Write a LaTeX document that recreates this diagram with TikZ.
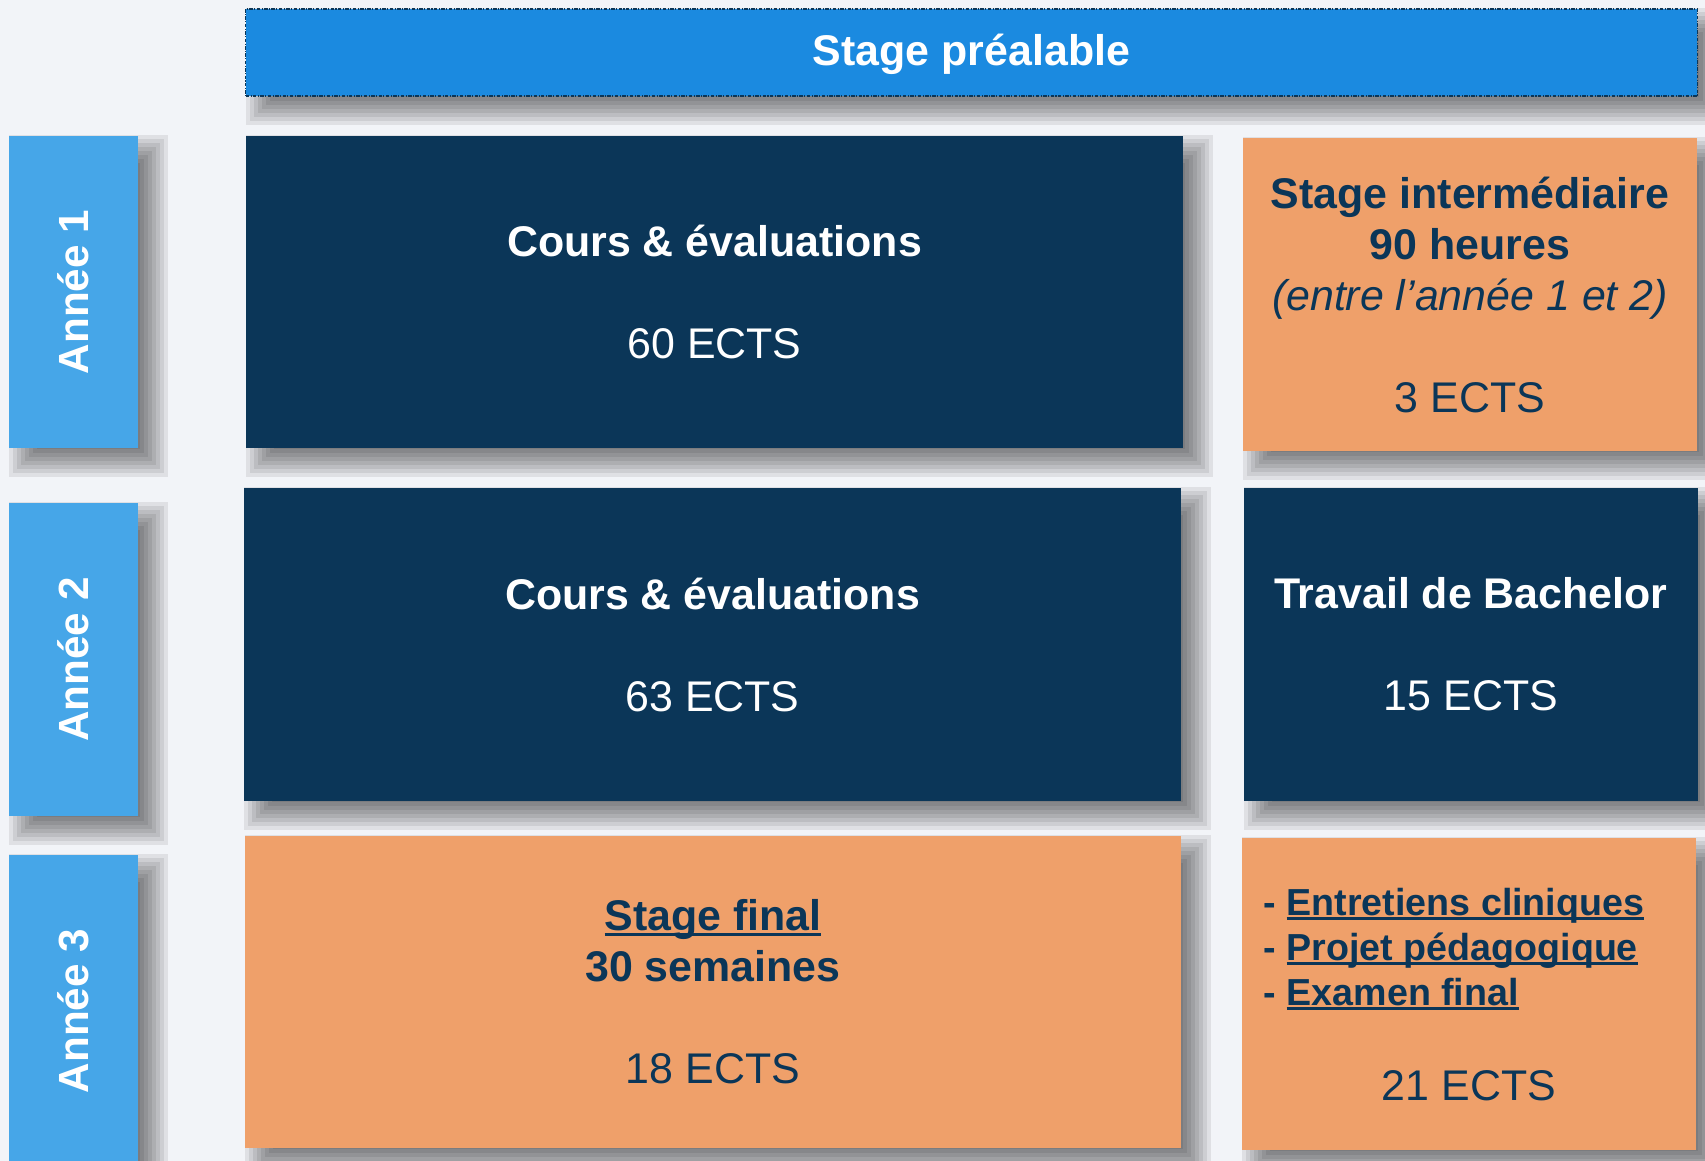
\documentclass[tikz,border=0pt]{standalone}
\usepackage{fontspec}
\setmainfont{Liberation Sans}
\usetikzlibrary{positioning}
\usetikzlibrary{backgrounds}

\definecolor{pagebg}{HTML}{F2F4F8}
\definecolor{bannerblue}{HTML}{1B8AE0}
\definecolor{yearblue}{HTML}{46A6E8}
\definecolor{navy}{HTML}{0B3658}
\definecolor{apricot}{HTML}{EFA06A}

\newlength\ulwd
\newcommand\ulword[1]{\settowidth\ulwd{#1}\rlap{\rule[-0.13em]{\ulwd}{0.075em}}#1}

\begin{document}
\begin{tikzpicture}[x=0.01cm,y=-0.01cm,
  box/.style={rectangle,inner sep=0pt,align=center},
  big/.style={font=\fontsize{12.2}{14.5}\selectfont},
  navybox/.style={box,big,fill=navy,text=white},
  orangebox/.style={box,big,fill=apricot,text=navy},
  yearbox/.style={box,fill=yearblue,minimum width=1.29cm,minimum height=3.12cm},
  yeartext/.style={rotate=90,text=white,font=\fontsize{12}{14}\selectfont\bfseries},
  listtext/.style={align=left,inner sep=0pt,text=navy,font=\fontsize{10.7}{12.8}\selectfont\bfseries},
  shadowlayer/.style={black,opacity=0.08}]

\useasboundingbox (0,0) rectangle (1705,1161);

\node[box,big,fill=bannerblue,text=white,draw=navy,line width=0.35pt,
  dash pattern=on 1pt off 0.4pt on 0.3pt off 0.4pt,text height=0.72em,text depth=0pt,
  minimum width=14.51cm,minimum height=0.87cm] (prel) at (971.5,52.5) {\textbf{Stage préalable}};

\node[navybox,minimum width=9.37cm,minimum height=3.12cm] (c1) at (714.5,292)
  {\textbf{Cours \& évaluations}\\[14.5pt]60 ECTS};
\node[yearbox,left=1.06cm of c1] (y1) {};
\node[yeartext] (y1t) at (y1) {Année 1};
\node[orangebox,minimum width=4.54cm,minimum height=3.13cm] (si) at (1470,294.5)
  {\textbf{Stage intermédiaire}\\\textbf{90 heures}\\\textit{(entre l’année 1 et 2)}\\[14.5pt]3 ECTS};

\node[navybox,minimum width=9.37cm,minimum height=3.13cm] (c2) at (712.5,644.5)
  {\textbf{Cours \& évaluations}\\[14.5pt]63 ECTS};
\node[yearbox,minimum height=3.13cm] (y2) at (73.5,659.5) {};
\node[yeartext] (y2t) at (y2) {Année 2};
\node[navybox,minimum width=4.54cm,minimum height=3.13cm,right=0.61cm of c2] (tb)
  {\textbf{Travail de Bachelor}\\[14.5pt]15 ECTS};

\node[orangebox,minimum width=9.36cm,minimum height=3.12cm] (sf) at (713,992)
  {\textbf{\ulword{Stage final}}\\\textbf{30 semaines}\\[14.5pt]18 ECTS};
\node[yearbox] (y3) at (73.5,1011) {};
\node[yeartext] (y3t) at (y3) {Année 3};
\node[orangebox,minimum width=4.54cm,minimum height=3.12cm] (ex) at (1469,994) {};
\node[listtext,anchor=west] (exlist) at (1263,949)
  {- \ulword{Entretiens cliniques}\\- \ulword{Projet pédagogique}\\- \ulword{Examen final}};
\node[big,text=navy] (exects) at (1469,1086) {21 ECTS};

\begin{scope}[on background layer]
\fill[pagebg] (0,0) rectangle (1705,1161);
\foreach \n in {prel,c1,y1,si,c2,y2,tb,sf,y3,ex}
  \foreach \e in {0.14,0.10,...,-0.19}
    \fill[shadowlayer] ([xshift={(0.15-(\e))*1cm},yshift={(-0.14+(\e))*1cm}]\n.north west)
      rectangle ([xshift={(0.15+(\e))*1cm},yshift={(-0.14-(\e))*1cm}]\n.south east);
\end{scope}

\end{tikzpicture}
\end{document}
